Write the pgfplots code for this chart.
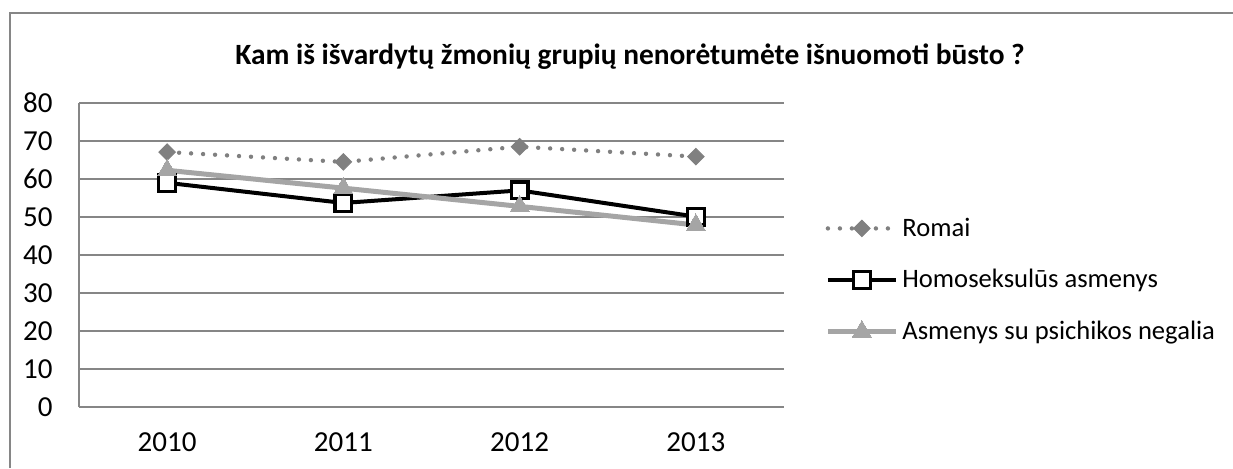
\documentclass[border=0pt]{standalone}
\usepackage{pgfplots}
\pgfplotsset{compat=1.18}
\usepackage{fontspec}
\setmainfont{Carlito}
\definecolor{romai}{HTML}{808080}
\definecolor{psych}{HTML}{A5A5A5}
\definecolor{gridc}{HTML}{868686}
\begin{document}
\begin{tikzpicture}
\useasboundingbox (0,0) rectangle (616.5pt,234pt);
\draw[gridc, line width=0.75pt] (5pt,0pt) -- (5pt,227.5pt) -- (616.5pt,227.5pt);
\node[font=\fontsize{14.7}{17}\selectfont\bfseries] at (315pt,205.5pt) {Kam iš išvardytų žmonių grupių nenorėtumėte išnuomoti būsto ?};
\begin{axis}[
  at={(39.5pt,30.5pt)}, anchor=south west,
  scale only axis, width=352.5pt, height=152pt,
  xmin=-0.5, xmax=3.5, ymin=0, ymax=80,
  xtick={0,1,2,3}, xticklabels={2010,2011,2012,2013},
  ytick={0,10,...,80},
  axis x line*=bottom, axis y line*=left,
  axis line style={gridc, line width=0.75pt, -},
  major tick length=0pt,
  ymajorgrids, grid style={gridc, line width=0.75pt},
  tick label style={font=\fontsize{14.5}{16}\selectfont, text=black},
  /pgf/number format/assume math mode=true,
  yticklabel style={anchor=east, inner sep=0pt, xshift=-13pt},
  xticklabel style={anchor=base, inner sep=0pt, yshift=-22pt},
  legend style={at={(1,0.5)}, anchor=west, xshift=20.5pt, yshift=-12.5pt, draw=none, fill=none, inner sep=0pt,
    font=\fontsize{13.3}{15}\selectfont, row sep=15pt, nodes={inner sep=0pt, anchor=west}},
  legend cell align=left,
  legend image code/.code={\draw[mark repeat=2,mark phase=2,#1] plot coordinates {(0pt,0pt)(17pt,0pt)(34pt,0pt)};},
  clip=false,
]
\addplot[romai, line width=2.2pt, line cap=round, dash pattern=on 0pt off 6pt, mark=square*, mark size=2.9pt, mark options={solid, rotate=45, fill=romai, draw=romai, line width=0.5pt}]
  coordinates {(0,67.1) (1,64.5) (2,68.5) (3,65.9)};
\addlegendentry{\hspace{2pt}Romai}
\addplot[black, line width=2pt, mark=square*, mark size=4.2pt, mark options={solid, fill=white, draw=black, line width=1.6pt}]
  coordinates {(0,59.0) (1,53.7) (2,57.0) (3,50.1)};
\addlegendentry{\hspace{2pt}Homoseksulūs asmenys}
\addplot[psych, line width=2.5pt, mark=triangle*, mark size=5.5pt, mark options={solid, fill=psych, draw=psych, line width=0pt}]
  coordinates {(0,62.3) (1,57.6) (2,52.8) (3,47.9)};
\addlegendentry{\hspace{2pt}Asmenys su psichikos negalia}
\end{axis}
\end{tikzpicture}
\end{document}
